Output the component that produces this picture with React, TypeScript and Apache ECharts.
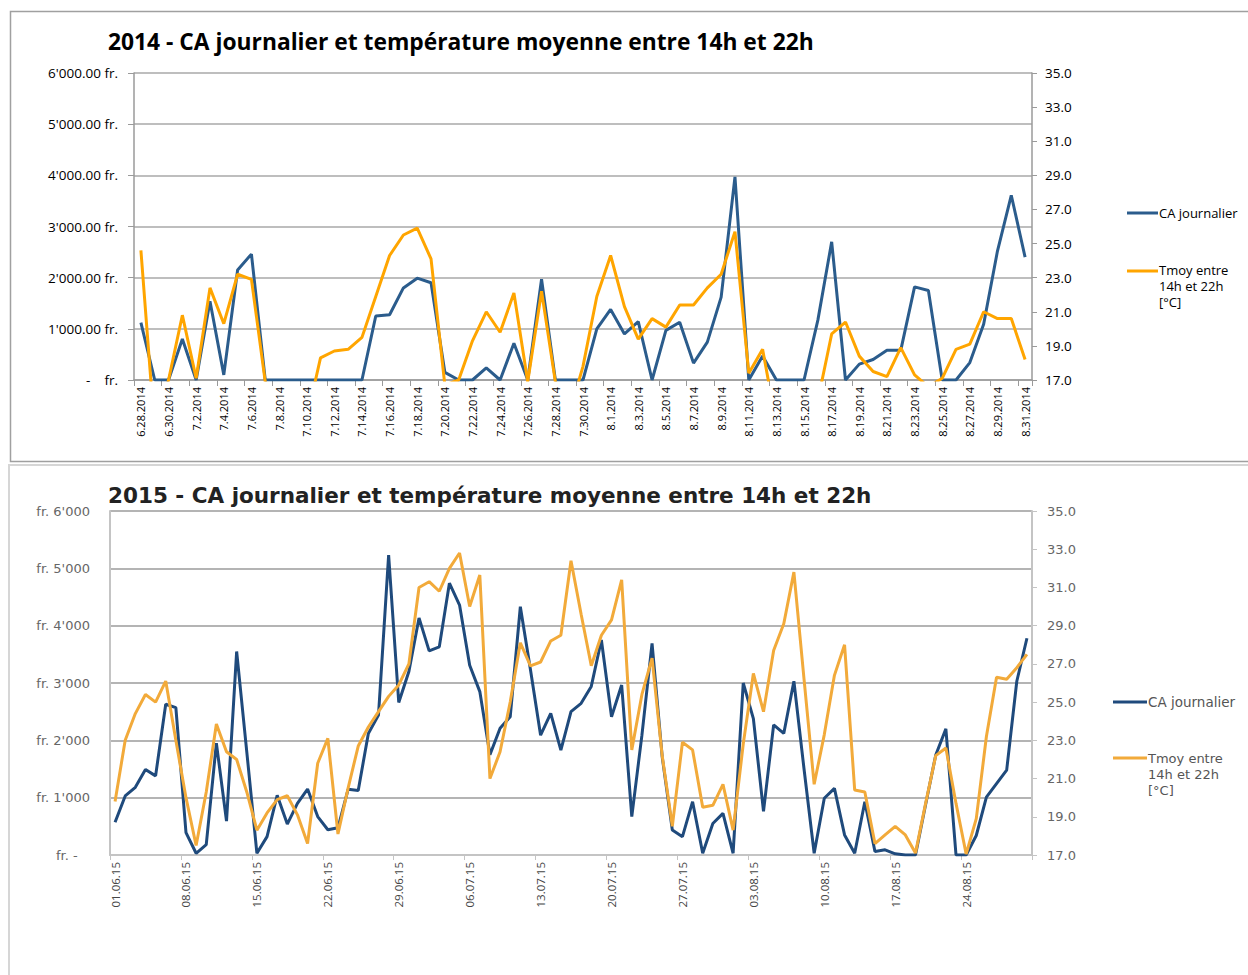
import React, { useEffect, useRef } from "react";
import * as echarts from "echarts";

// ---------- 2014 data (6.28.2014 .. 8.31.2014) ----------
const ca2014 = [
  1120, 0, 0,
  800, 0, 1540, 100, 2150, 2460, 0, 0, 0, 0, 0, 0, 0, 0, 1250, 1275, 1800, 1990, 1900, 150, 0, 0, 235, 0, 720, 0, 1970, 0, 0, 0, 1000,
  1380, 900, 1140, 0, 970, 1130, 330, 740, 1620, 3970, 0, 470, 0, 0, 0, 1170, 2700, 0, 310, 400, 580, 580, 1820, 1750, 0, 0, 340, 1090, 2520, 3610, 2400,
];
const temp2014 = [
  24.6, 14.0, 17.0,
  20.8, 17.1, 22.4, 20.3, 23.2, 22.9, 16.9, 15.5, 15.0, 14.7, 18.3, 18.7, 18.8, 19.5, 21.9, 24.3, 25.5, 25.9, 24.1, 16.7, 17.0, 19.3, 21.0, 19.8, 22.1, 16.9, 22.2, 16.9, 15.0, 17.8, 21.9,
  24.3, 21.3, 19.4, 20.6, 20.1, 21.4, 21.4, 22.4, 23.2, 25.7, 17.4, 18.8, 14.4, 15.0, 15.5, 15.8, 19.7, 20.4, 18.4, 17.5, 17.2, 18.9, 17.3, 16.6, 17.1, 18.8, 19.1, 21.0, 20.6, 20.6, 18.2,
];

// ---------- 2015 data (01.06.15 .. 30.08.15) ----------
const ca2015 = [
  570, 1030, 1180, 1490, 1380, 2630, 2570, 390, 30, 180, 1950, 590, 3550, 1800, 30, 320, 1040, 540, 900, 1150, 670, 440, 475, 1145, 1125, 2120, 2440, 5230, 2660, 3200,
  4135, 3560, 3630, 4740, 4360, 3310, 2850, 1750, 2210, 2410, 4330, 3230, 2090, 2470, 1830, 2500, 2645, 2940, 3750, 2410, 2965, 670, 2090, 3690, 1715, 436, 320, 930, 30, 550,
  727, 30, 3000, 2380, 760, 2270, 2120, 3030, 1500, 30, 990, 1163, 350, 30, 930, 60, 90, 20, 0, 0, 880, 1744, 2200, 0, 0, 340, 1010, 1245, 1480, 3030, 3780,
];
const temp2015 = [
  19.8, 23.0, 24.4, 25.4, 25.0, 26.1, 23.0, 20.0, 17.5, 20.3, 23.85, 22.4, 22.0, 20.3, 18.3, 19.2, 19.9, 20.1, 19.1, 17.6, 21.8, 23.1, 18.1, 20.5, 22.7, 23.7, 24.5, 25.3, 25.9, 27.0,
  31.0, 31.3, 30.8, 32.0, 32.8, 30.0, 31.65, 21.0, 22.4, 25.0, 28.1, 26.9, 27.1, 28.2, 28.5, 32.4, 29.6, 26.9, 28.5, 29.3, 31.4, 22.5, 25.4, 27.3, 22.2, 18.5, 22.9, 22.5, 19.5, 19.6,
  20.7, 18.3, 22.8, 26.5, 24.5, 27.7, 29.1, 31.8, 26.2, 20.7, 23.3, 26.4, 28.0, 20.4, 20.3, 17.6, 18.05, 18.5, 18.05, 17.1, 19.7, 22.2, 22.6, 19.7, 17.05, 18.9, 23.2, 26.3, 26.2, 26.8, 27.5,
];

// ---------- categories & tick labels ----------
function dayList(y: number, m: number, d: number, n: number, fmt: (dt: Date) => string) {
  const out: string[] = [];
  for (let i = 0; i < n; i++) out.push(fmt(new Date(Date.UTC(y, m, d + i))));
  return out;
}
const dates2014 = dayList(2014, 5, 28, 65, (dt) => `${dt.getUTCMonth() + 1}.${dt.getUTCDate()}.2014`);
const pad = (v: number) => (v < 10 ? "0" + v : "" + v);
const dates2015 = dayList(2015, 5, 1, 91, (dt) => `${pad(dt.getUTCDate())}.${pad(dt.getUTCMonth() + 1)}.15`);

const caTicks2014 = ["-    fr.", "1'000.00 fr.", "2'000.00 fr.", "3'000.00 fr.", "4'000.00 fr.", "5'000.00 fr.", "6'000.00 fr."];
const caTicks2015 = ["fr. -   ", "fr. 1'000", "fr. 2'000", "fr. 3'000", "fr. 4'000", "fr. 5'000", "fr. 6'000"];
const tempTicks = [17, 19, 21, 23, 25, 27, 29, 31, 33, 35];

const title2014 = "2014 - CA journalier et température moyenne entre 14h et 22h";
const title2015 = "2015 - CA journalier et température moyenne entre 14h et 22h";
const legendCA = "CA journalier";
const legendT = "Tmoy entre\n14h et 22h\n[°C]";

const FONT = "'Open Sans', 'Noto Sans', sans-serif";
const FONT15 = "'DejaVu Sans', 'Open Sans', sans-serif";
const BLUE14 = "#2b5c8c";
const ORANGE14 = "#ffa500";
const BLUE15 = "#1f4a7c";
const ORANGE15 = "#f2aa3a";

export default function App() {
  const ref = useRef<HTMLDivElement>(null);
  useEffect(() => {
    if (!ref.current) return;
    const chart = echarts.init(ref.current, undefined, { renderer: "svg" });
    const option: any = {
      animation: false,
      backgroundColor: "#ffffff",
      textStyle: { fontFamily: FONT },
      title: [
        { text: title2014, left: 103, top: 25, textStyle: { fontFamily: FONT, fontSize: 22.8, fontWeight: "bold", color: "#000" } },
        { text: title2015, left: 103, top: 479, textStyle: { fontFamily: FONT15, fontSize: 21.5, fontWeight: "bold", color: "#222" } },
      ],
      grid: [
        { left: 134, top: 73, width: 898, height: 307 },
        { left: 110, top: 511, width: 922, height: 344 },
      ],
      xAxis: [
        {
          type: "category", gridIndex: 0, data: dates2014, boundaryGap: true,
          axisLine: { lineStyle: { color: "#9a9a9a", width: 1.5 } },
          axisTick: { show: true, interval: 1, length: 6, lineStyle: { color: "#9a9a9a" } },
          axisLabel: { interval: 1, rotate: 90, fontSize: 11, color: "#000", margin: 7, fontFamily: FONT },
        },
        {
          type: "category", gridIndex: 1, data: dates2015, boundaryGap: true,
          axisLine: { lineStyle: { color: "#c4c4c4", width: 2 } },
          axisTick: { show: true, interval: 6, length: 5, lineStyle: { color: "#c4c4c4" } },
          axisLabel: { interval: 6, rotate: 90, fontSize: 11.5, color: "#444", margin: 7, fontFamily: FONT },
        },
      ],
      yAxis: [
        {
          type: "value", gridIndex: 0, min: 0, max: 6000, interval: 1000, position: "left",
          axisLine: { show: true, lineStyle: { color: "#9a9a9a", width: 1.5 } },
          axisTick: { show: true, length: 6, lineStyle: { color: "#9a9a9a" } },
          splitLine: { show: true, lineStyle: { color: "#a8a8a8", width: 1.5 } },
          axisLabel: { fontSize: 13.5, color: "#000", margin: 16, fontFamily: FONT, formatter: (v: number) => caTicks2014[Math.round(v / 1000)] },
        },
        {
          type: "value", gridIndex: 0, min: 17, max: 35, position: "right",
          axisLine: { show: true, lineStyle: { color: "#9a9a9a", width: 1.5 } },
          axisTick: { show: true, length: 5, customValues: tempTicks, lineStyle: { color: "#9a9a9a" } },
          splitLine: { show: false },
          axisLabel: { fontSize: 13.5, color: "#000", margin: 13, fontFamily: FONT, customValues: tempTicks, formatter: (v: number) => v.toFixed(1) },
        },
        {
          type: "value", gridIndex: 1, min: 0, max: 6000, interval: 1000, position: "left",
          axisLine: { show: true, lineStyle: { color: "#c4c4c4", width: 2 } },
          axisTick: { show: false },
          splitLine: { show: true, lineStyle: { color: "#b4b4b4", width: 2 } },
          axisLabel: { fontSize: 13, color: "#666", margin: 20, fontFamily: FONT15, formatter: (v: number) => caTicks2015[Math.round(v / 1000)] },
        },
        {
          type: "value", gridIndex: 1, min: 17, max: 35, position: "right",
          axisLine: { show: true, lineStyle: { color: "#c4c4c4", width: 2 } },
          axisTick: { show: true, length: 5, customValues: tempTicks, lineStyle: { color: "#c4c4c4" } },
          splitLine: { show: false },
          axisLabel: { fontSize: 13, color: "#666", margin: 15, fontFamily: FONT15, customValues: tempTicks, formatter: (v: number) => v.toFixed(1) },
        },
      ],
      series: [
        { name: "CA journalier", type: "line", xAxisIndex: 0, yAxisIndex: 0, data: ca2014, symbol: "none", clip: true, color: BLUE14, lineStyle: { color: BLUE14, width: 3 } },
        { name: "Tmoy entre 14h et 22h [°C]", type: "line", xAxisIndex: 0, yAxisIndex: 1, data: temp2014, symbol: "none", clip: true, color: ORANGE14, lineStyle: { color: ORANGE14, width: 3 } },
        { name: "CA journalier 2015", type: "line", xAxisIndex: 1, yAxisIndex: 2, data: ca2015, symbol: "none", clip: true, color: BLUE15, lineStyle: { color: BLUE15, width: 3 } },
        { name: "Tmoy 2015", type: "line", xAxisIndex: 1, yAxisIndex: 3, data: temp2015, symbol: "none", clip: true, color: ORANGE15, lineStyle: { color: ORANGE15, width: 3 } },
      ],
      graphic: [
        { type: "rect", silent: true, z: -10, shape: { x: 10.5, y: 11.5, width: 1300, height: 450 }, style: { fill: "none", stroke: "#a0a0a0", lineWidth: 1.5 } },
        { type: "rect", silent: true, z: -10, shape: { x: 9, y: 465, width: 1300, height: 540 }, style: { fill: "none", stroke: "#d6d6d6", lineWidth: 2 } },
        // legend 2014
        { type: "line", shape: { x1: 1127, y1: 213, x2: 1158, y2: 213 }, style: { stroke: BLUE14, lineWidth: 3 } },
        { type: "text", x: 1159, y: 213, style: { text: legendCA, fontFamily: FONT, fontSize: 13, fill: "#000", verticalAlign: "middle" } },
        { type: "line", shape: { x1: 1127, y1: 271, x2: 1158, y2: 271 }, style: { stroke: ORANGE14, lineWidth: 3 } },
        { type: "text", x: 1159, y: 262, style: { text: legendT, fontFamily: FONT, fontSize: 13, lineHeight: 16, fill: "#000", verticalAlign: "top" } },
        // legend 2015
        { type: "line", shape: { x1: 1113, y1: 702, x2: 1147, y2: 702 }, style: { stroke: BLUE15, lineWidth: 3 } },
        { type: "text", x: 1148, y: 702, style: { text: legendCA, fontFamily: FONT15, fontSize: 13.5, fill: "#555", verticalAlign: "middle" } },
        { type: "line", shape: { x1: 1113, y1: 758, x2: 1147, y2: 758 }, style: { stroke: ORANGE15, lineWidth: 3 } },
        { type: "text", x: 1148, y: 750, style: { text: legendT, fontFamily: FONT15, fontSize: 13, lineHeight: 16, fill: "#555", verticalAlign: "top" } },
      ],
    };
    chart.setOption(option);
    return () => chart.dispose();
  }, []);
  return <div ref={ref} style={{ position: "absolute", left: 0, top: 0, width: 1248, height: 975 }} />;
}
